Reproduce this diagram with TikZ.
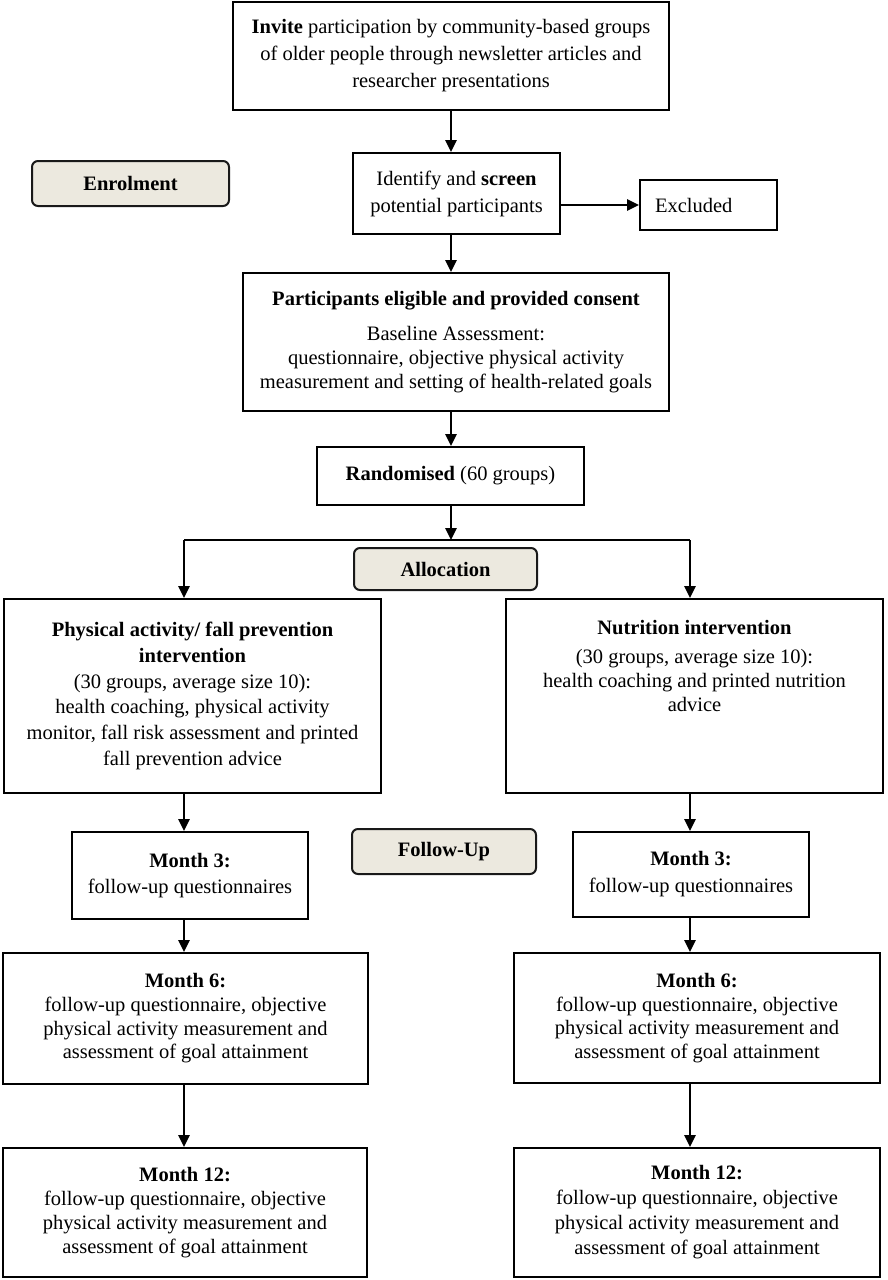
\documentclass[tikz,border=0pt]{standalone}
\usepackage{fontspec}
\setmainfont{Liberation Serif}
\usetikzlibrary{arrows.meta}
\definecolor{labelfill}{HTML}{ECE9DF}
\begin{document}
\begin{tikzpicture}[x=1pt,y=-1pt,
  box/.style={draw=black, line width=1.7pt, rectangle, inner sep=0pt, align=center, font=\fontsize{20.5}{24}\selectfont},
  tag/.style={draw=black!90, line width=2pt, rounded corners=6pt, fill=labelfill, inner sep=0pt, font=\fontsize{20.5}{24}\selectfont\bfseries},
  arr/.style={line width=2.6pt, -{Triangle[length=12pt,width=11pt]}},
  ln/.style={line width=2.6pt}
]
\useasboundingbox (0,0) rectangle (887,1280);

% top section
\node[box, minimum width=436pt, minimum height=108pt, font=\fontsize{20.5}{27}\selectfont] (invite) at (451,56)
  {\textbf{Invite} participation by community-based groups\\ of older people through newsletter articles and\\ researcher presentations};
\node[tag, minimum width=197pt, minimum height=45pt] (enrol) at (130.5,183.5) {Enrolment};
\node[box, minimum width=207pt, minimum height=81pt, font=\fontsize{20.5}{27}\selectfont] (identify) at (456.5,193.5)
  {Identify and \textbf{screen}\\ potential participants};
\node[box, minimum height=50pt, inner xsep=15pt, text width=107pt, align=left] (excluded) at (708.5,205) {Excluded};
\node[box, minimum width=426pt, minimum height=138pt] (particip) at (456,342)
  {\textbf{Participants eligible and provided consent}\\[11pt] Baseline Assessment:\\ questionnaire, objective physical activity\\ measurement and setting of health-related goals};
\node[box, minimum width=267pt, minimum height=58pt] (random) at (450.5,476) {\textbf{Randomised} (60 groups)};
\node[tag, minimum width=183pt, minimum height=42pt] (alloc) at (445.5,569) {Allocation};

% intervention boxes
\node[box, minimum width=377pt, minimum height=194pt, font=\fontsize{20.5}{25.8}\selectfont] (pa) at (192.5,696)
  {\textbf{Physical activity/ fall prevention}\\ \textbf{intervention}\\ (30 groups, average size 10):\\ health coaching, physical activity\\ monitor, fall risk assessment and printed\\ fall prevention advice};
\node[box, minimum width=377pt, minimum height=194pt] (nut) at (694.5,696)
  {\textbf{Nutrition intervention}\\[5pt] (30 groups, average size 10):\\ health coaching and printed nutrition\\ advice\\[36pt]\mbox{}};

% follow-up
\node[tag, minimum width=184pt, minimum height=45pt] (follow) at (444,851.5) {Follow-Up};
\node[box, minimum width=236pt, minimum height=87pt, font=\fontsize{20.5}{26}\selectfont] (m3l) at (190,875.5)
  {\textbf{Month 3:}\\ follow-up questionnaires};
\node[box, minimum width=236pt, minimum height=85pt, font=\fontsize{20.5}{27}\selectfont] (m3r) at (691,874.5)
  {\textbf{Month 3:}\\ follow-up questionnaires};
\node[box, minimum width=365pt, minimum height=131pt, font=\fontsize{20.5}{23.7}\selectfont] (m6l) at (185.5,1018.5)
  {\textbf{Month 6:}\\ follow-up questionnaire, objective\\ physical activity measurement and\\ assessment of goal attainment};
\node[box, minimum width=366pt, minimum height=130pt, font=\fontsize{20.5}{23.7}\selectfont] (m6r) at (697,1018)
  {\textbf{Month 6:}\\ follow-up questionnaire, objective\\ physical activity measurement and\\ assessment of goal attainment};
\node[box, minimum width=364pt, minimum height=129pt, font=\fontsize{20.5}{24}\selectfont] (m12l) at (185,1212.5)
  {\textbf{Month 12:}\\ follow-up questionnaire, objective\\ physical activity measurement and\\ assessment of goal attainment};
\node[box, minimum width=366pt, minimum height=129pt, font=\fontsize{20.5}{25}\selectfont] (m12r) at (697,1212.5)
  {\textbf{Month 12:}\\ follow-up questionnaire, objective\\ physical activity measurement and\\ assessment of goal attainment};

% connectors
\coordinate (split) at (451,540);
\coordinate (splitL) at (184,540);
\coordinate (splitR) at (690,540);
\draw[arr] (invite.south) -- (invite.south |- identify.north);
\draw[arr] (invite.south |- identify.south) -- (invite.south |- particip.north);
\draw[arr] (identify.east |- excluded.west) -- (excluded.west);
\draw[arr] (invite.south |- particip.south) -- (invite.south |- random.north);
\draw[arr] (random.south -| split) -- (split);
\draw[ln] (splitL) -- (splitR);
\draw[arr] (splitL) -- (splitL |- pa.north);
\draw[arr] (splitR) -- (splitR |- nut.north);
\draw[arr] (pa.south -| splitL) -- (m3l.north -| splitL);
\draw[arr] (nut.south -| splitR) -- (m3r.north -| splitR);
\draw[arr] (m3l.south -| splitL) -- (m6l.north -| splitL);
\draw[arr] (m3r.south -| splitR) -- (m6r.north -| splitR);
\draw[arr] (m6l.south -| splitL) -- (m12l.north -| splitL);
\draw[arr] (m6r.south -| splitR) -- (m12r.north -| splitR);
\end{tikzpicture}
\end{document}
